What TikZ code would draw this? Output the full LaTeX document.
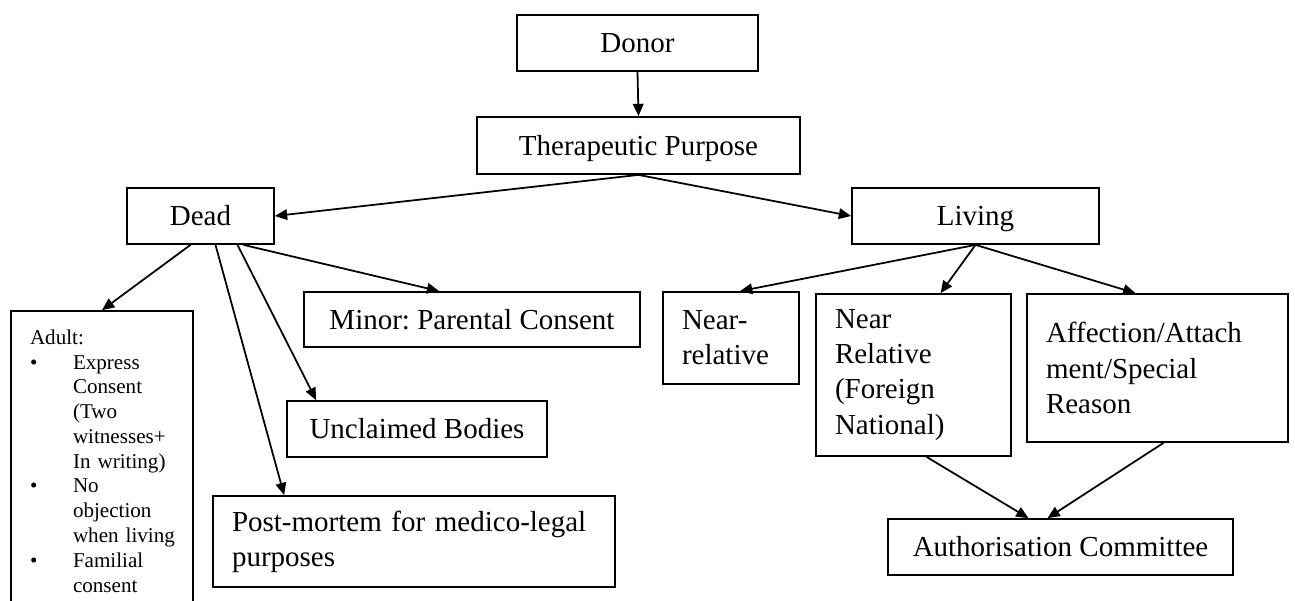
\documentclass[tikz,border=0pt]{standalone}
\usepackage{fontspec}
\setmainfont{Liberation Serif}
\usetikzlibrary{arrows.meta,calc}
\frenchspacing

\begin{document}
\begin{tikzpicture}[x=0.02cm, y=-0.02cm,
            box/.style={draw, line width=1pt, inner sep=0pt, font=\fontsize{16.5}{20}\selectfont},
            onebox/.style={box, text height=11pt, text depth=0pt},
            textbox/.style={box, inner xsep=0.38cm, align=left},
            arr/.style={line width=1pt, -{Triangle[length=7pt,width=6pt]}}]
            \useasboundingbox (0, 0) rectangle (1295, 600);
            \node[onebox, minimum width=4.82cm, minimum height=1.12cm] (donor) at (637.5, 43) {Donor};
            \node[onebox, minimum width=6.46cm, minimum height=1.14cm] (therapy) at (638.5, 145.5) {Therapeutic Purpose};
            \node[onebox, minimum width=2.94cm, minimum height=1.12cm] (dead) at (200.5, 216) {Dead};
            \node[onebox, minimum width=4.94cm, minimum height=1.12cm] (living) at (975.5, 216) {Living};
            \node[textbox, font=\fontsize{12}{14.1}\selectfont, text width=2.88cm, minimum height=6cm] (adult) at (102, 461)
                {Adult:\\
                 \makebox[0.86cm][l]{\textbullet}Express\\
                 \hspace*{0.86cm}Consent\\
                 \hspace*{0.86cm}(Two\\
                 \hspace*{0.86cm}witnesses+\\
                 \hspace*{0.86cm}In writing)\\
                 \makebox[0.86cm][l]{\textbullet}No\\
                 \hspace*{0.86cm}objection\\
                 \hspace*{0.86cm}\mbox{when living}\\
                 \makebox[0.86cm][l]{\textbullet}Familial\\
                 \hspace*{0.86cm}consent};
            \node[onebox, minimum width=6.72cm, minimum height=1.1cm] (minor) at (472, 319.5) {Minor: Parental Consent};
            \node[onebox, minimum width=5.2cm, minimum height=1.12cm] (unclaimed) at (417, 429) {Unclaimed Bodies};
            \node[textbox, text width=7.28cm, minimum height=1.82cm] (postmortem) at (414, 541.5) {Post-mortem for medico-legal\\purposes};
            \node[textbox, text width=1.96cm, minimum height=1.84cm] (nearrel) at (731, 338) {Near-\\relative};
            \node[textbox, text width=3.14cm, minimum height=3.24cm] (foreign) at (913.5, 375) {Near\\Relative\\(Foreign\\National)};
            \node[textbox, text width=4.46cm, minimum height=2.96cm] (affection) at (1157.5, 368) {Affection/Attach\\ment/Special\\Reason};
            \node[onebox, minimum width=6.9cm, minimum height=1.12cm] (authority) at (1060.5, 547) {Authorisation Committee};
            \draw[arr] (donor.south) -- (therapy.north);
            \draw[arr] (therapy.south) -- (dead.east);
            \draw[arr] (therapy.south) -- (living.west);
            \draw[arr] ($(dead.south)+(-10, 0)$) -- (adult.north);
            \draw[arr] ($(dead.south)+(15, 0)$) -- ($(postmortem.north west)+(72, 0)$);
            \draw[arr] ($(dead.south)+(37, 0)$) -- ($(unclaimed.north west)+(30, 0)$);
            \draw[arr] ($(dead.south)+(43, 0)$) -- ($(minor.north west)+(136, 0)$);
            \draw[arr] (living.south) -- ($(nearrel.north)+(9, 0)$);
            \draw[arr] (living.south) -- ($(foreign.north)+(27, 0)$);
            \draw[arr] (living.south) -- ($(affection.north)+(-22, 0)$);
            \draw[arr] ($(foreign.south)+(13, 0)$) -- ($(authority.north)+(-32, 0)$);
            \draw[arr] ($(affection.south)+(6, 0)$) -- ($(authority.north)+(-13, 0)$);
        \end{tikzpicture}
\end{document}
